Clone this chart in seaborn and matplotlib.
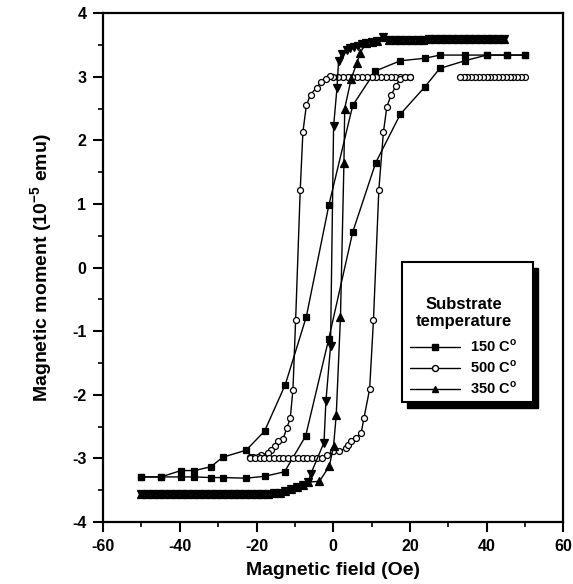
import matplotlib
matplotlib.use("Agg")
import matplotlib.pyplot as plt
import seaborn as sns
from matplotlib.lines import Line2D
from matplotlib.patches import Rectangle
from matplotlib.ticker import MultipleLocator

# ---------------- data ----------------
# 150 C (filled squares)
s150_down_x = [50, 45.2, 40, 34.3, 27.8, 23.9, 17.5, 11.0, 5.1, -1.1, -7.0, -12.5, -17.9,
               -22.7, -28.8, -31.9, -36.2, -39.7, -44.9, -50]
s150_down_y = [3.34, 3.34, 3.34, 3.34, 3.34, 3.29, 3.25, 3.09, 2.55, 0.99, -0.77, -1.84, -2.57,
               -2.87, -2.98, -3.13, -3.19, -3.19, -3.29, -3.29]
s150_up_x = [-50, -44.9, -39.7, -36.2, -31.9, -28.8, -22.7, -17.9, -12.7, -7.2, -1.2, 5.1, 11.1,
             17.5, 23.9, 27.8, 34.3, 40, 45.2, 50]
s150_up_y = [-3.29, -3.29, -3.29, -3.29, -3.30, -3.30, -3.31, -3.28, -3.21, -2.65, -1.13, 0.56, 1.65,
             2.41, 2.84, 3.13, 3.25, 3.34, 3.34, 3.34]

# 500 C (open circles)
s500_top_x = [50, 49, 48, 47, 46, 45, 44, 43, 42, 41, 40, 39, 38, 37, 36, 35, 34, 33]
s500_top_y = [3.0, 3.0, 3.0, 3.0, 3.0, 3.0, 3.0, 3.0, 3.0, 3.0, 3.0, 3.0, 3.0, 3.0, 3.0, 3.0, 3.0, 3.0]
s500_down_x = [20, 18.8, 17.5, 16.2, 15, 13.8, 12.5, 11.2, 10, 8.8, 7.5, 6.2, 5, 3.8, 2.5, 1.2, 0,
               -0.8, -1.8, -3.1, -4.3, -5.9, -7.0, -7.9, -8.6, -9.8, -10.5, -11.2, -12.1, -13.1,
               -14.4, -15.3, -16.2, -17.0, -18.8, -19.7, -21.0, -21.8]
s500_down_y = [3.0, 3.0, 3.0, 3.0, 3.0, 3.0, 3.0, 3.0, 3.0, 3.0, 3.0, 3.0, 3.0, 3.0, 3.0, 3.0, 3.0,
               3.01, 2.97, 2.92, 2.83, 2.72, 2.55, 2.13, 1.22, -0.83, -1.92, -2.37, -2.52, -2.70,
               -2.73, -2.81, -2.87, -2.92, -2.94, -2.97, -2.98, -2.98]
s500_up_x = [-21.8, -20.5, -19.2, -18, -16.8, -15.5, -14.2, -13, -11.8, -10.5, -9.2, -8, -6.8,
             -5.5, -4.2, -3, -1.5, -0.1, 1.6, 3.4, 3.8, 4.7, 6.0, 7.3, 8.0, 9.5, 10.5, 11.9,
             13.1, 14.0, 15.1, 16.4, 17.5, 18.8, 20]
s500_up_y = [-3.0, -3.0, -3.0, -3.0, -3.0, -3.0, -3.0, -3.0, -3.0, -3.0, -3.0, -3.0, -3.0,
             -3.0, -3.0, -3.0, -2.95, -2.89, -2.88, -2.84, -2.79, -2.72, -2.68, -2.60, -2.37,
             -1.91, -0.83, 1.22, 2.13, 2.53, 2.71, 2.86, 2.97, 3.0, 3.0]

# 350 C (triangles: down = descending branch, up = ascending branch)
s350_top_x = [44.5, 43, 41.5, 40, 38.5, 37, 35.5, 34, 32.5, 31, 29.5, 28, 26.5, 25, 23.5, 22,
              20.5, 19, 17.5, 16, 14.5, 13, 11.5, 10, 8.5]
s350_top_y = [3.59, 3.59, 3.59, 3.59, 3.59, 3.59, 3.59, 3.59, 3.59, 3.59, 3.59, 3.59, 3.59, 3.59,
              3.58, 3.58, 3.58, 3.58, 3.58, 3.58, 3.57, 3.62, 3.56, 3.55, 3.53]
s350_bottom_x = [-50, -48.5, -47, -45.5, -44, -42.5, -41, -39.5, -38, -36.5, -35, -33.5, -32,
                 -30.5, -29, -27.5, -26, -24.5, -23, -21.5, -20, -18.5, -17, -15.5, -14, -12.5,
                 -11, -9.5, -8, -6.5]
s350_bottom_y = [-3.56, -3.56, -3.56, -3.56, -3.56, -3.56, -3.56, -3.56, -3.56, -3.56, -3.56,
                 -3.56, -3.56, -3.56, -3.56, -3.56, -3.56, -3.56, -3.56, -3.56, -3.56, -3.56,
                 -3.56, -3.55, -3.54, -3.51, -3.48, -3.45, -3.41, -3.37]
s350_down_mid_x = [7.5, 6.5, 5.5, 4.5, 3.5, 2.3, 1.4, 1.0, 0.1, -0.7, -1.9, -2.4, -5.9]
s350_down_mid_y = [3.51, 3.49, 3.47, 3.45, 3.42, 3.36, 3.25, 2.83, 2.22, -1.24, -2.10, -2.75, -3.25]
s350_up_mid_x = [-3.6, -1.0, 0.1, 0.8, 1.9, 2.8, 3.0, 4.7, 6.2, 7.1]
s350_up_mid_y = [-3.36, -3.12, -2.80, -2.31, -0.77, 1.64, 2.50, 2.97, 3.22, 3.38]

legend_labels = ["150 C$^{\\mathbf{o}}$", "500 C$^{\\mathbf{o}}$", "350 C$^{\\mathbf{o}}$"]
x_ticks = [-60, -40, -20, 0, 20, 40, 60]
y_ticks = [-4, -3, -2, -1, 0, 1, 2, 3, 4]

# ---------------- style ----------------
sns.set_style("ticks")
plt.rcParams["font.family"] = ["Liberation Sans", "DejaVu Sans"]
plt.rcParams["font.weight"] = "bold"
plt.rcParams["axes.unicode_minus"] = False
plt.rcParams["axes.labelcolor"] = "black"
plt.rcParams["text.color"] = "black"
plt.rcParams["mathtext.fontset"] = "custom"
plt.rcParams["mathtext.rm"] = "Liberation Sans:bold"
plt.rcParams["mathtext.bf"] = "Liberation Sans:bold"

fig = plt.figure(figsize=(5.73, 5.84), dpi=100)
ax = fig.add_axes([0.18, 0.106, 0.803, 0.8716])


def draw(xs, ys, marker, ms, mfc):
    sns.lineplot(x=xs, y=ys, sort=False, estimator=None, ax=ax, color="black",
                 marker=marker, markersize=ms, markerfacecolor=mfc,
                 markeredgecolor="black", markeredgewidth=0.9, linewidth=1.0,
                 legend=False)


# 150 C
draw(s150_down_x, s150_down_y, "s", 4.3, "black")
draw(s150_up_x, s150_up_y, "s", 4.3, "black")
# 500 C
draw(s500_top_x, s500_top_y, "o", 4.3, "white")
draw(s500_down_x, s500_down_y, "o", 4.3, "white")
draw(s500_up_x, s500_up_y, "o", 4.3, "white")
# 350 C
s350_down_x = s350_top_x + s350_down_mid_x + s350_bottom_x[::-1]
s350_down_y = s350_top_y + s350_down_mid_y + s350_bottom_y[::-1]
s350_up_x = s350_bottom_x + s350_up_mid_x + s350_top_x[::-1]
s350_up_y = s350_bottom_y + s350_up_mid_y + s350_top_y[::-1]
draw(s350_down_x, s350_down_y, "v", 5.5, "black")
draw(s350_up_x, s350_up_y, "^", 5.5, "black")

# ---------------- axes ----------------
ax.set_xlim(-60, 60)
ax.set_ylim(-4, 4)
ax.set_xticks(x_ticks)
ax.set_yticks(y_ticks)
ax.set_xticklabels([str(v) for v in x_ticks])
ax.set_yticklabels([str(v) for v in y_ticks])
ax.xaxis.set_minor_locator(MultipleLocator(10))
ax.yaxis.set_minor_locator(MultipleLocator(0.5))
ax.tick_params(axis="both", which="major", direction="out", length=7, width=1.5,
               labelsize=11.5, pad=5, color="black", labelcolor="black")
ax.tick_params(axis="both", which="minor", direction="out", length=3.5, width=1.2,
               color="black")
for lab in ax.get_xticklabels() + ax.get_yticklabels():
    lab.set_fontweight("bold")
for side in ["left", "right", "top", "bottom"]:
    ax.spines[side].set_visible(True)
    ax.spines[side].set_linewidth(1.6)
    ax.spines[side].set_color("black")

ax.set_xlabel("Magnetic field (Oe)", fontsize=14, fontweight="bold", labelpad=6,
              color="black")
ax.set_ylabel("Magnetic moment (10$^{\\mathbf{-5}}$ emu)", fontsize=14, fontweight="bold",
              labelpad=12, color="black")

# ---------------- legend box with shadow ----------------
bx, by, bw, bh = 0.65, 0.236, 0.285, 0.275
ax.add_patch(Rectangle((bx + 0.010, by - 0.011), bw, bh, transform=ax.transAxes,
                       facecolor="black", edgecolor="black", zorder=5))
ax.add_patch(Rectangle((bx, by), bw, bh, transform=ax.transAxes,
                       facecolor="white", edgecolor="black", linewidth=1.5, zorder=6))

handles = [
    Line2D([], [], color="black", lw=1.0, marker="s", markersize=4.3,
           markerfacecolor="black", markeredgecolor="black"),
    Line2D([], [], color="black", lw=1.0, marker="o", markersize=4.3,
           markerfacecolor="white", markeredgecolor="black"),
    Line2D([], [], color="black", lw=1.0, marker="^", markersize=5,
           markerfacecolor="black", markeredgecolor="black"),
]
leg = ax.legend(handles, legend_labels, loc="upper left",
                bbox_to_anchor=(0.668, 0.443), frameon=False,
                title="Substrate\ntemperature", title_fontsize=12,
                prop={"weight": "bold", "size": 10.5},
                handlelength=3.4, handletextpad=0.7, labelspacing=0.3,
                borderpad=0, borderaxespad=0)
leg.get_title().set_fontweight("bold")
leg.get_title().set_multialignment("center")
leg.get_title().set_linespacing(1.2)
leg._legend_box.sep = 6.5
leg.set_zorder(7)

fig.savefig("out.png", dpi=100, facecolor="white")
